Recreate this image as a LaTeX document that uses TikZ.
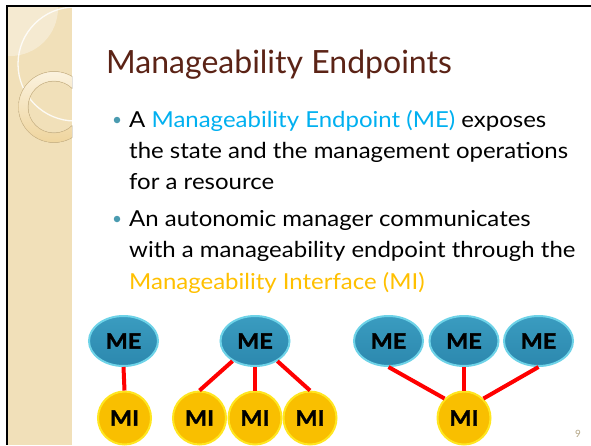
\documentclass[tikz,border=0pt]{standalone}
\usepackage{fontspec}
\setmainfont{Lato}
\newfontfamily\bodyfont{Lato}[FakeStretch=1.09]
\newfontfamily\labelfont{Lato}[FakeStretch=1.12, BoldFeatures={FakeBold=1.6}]
\usetikzlibrary{shapes.geometric}

\definecolor{titlebrown}{HTML}{5B2316}
\definecolor{panelbeige}{HTML}{F1E0B9}
\definecolor{ringlight}{HTML}{FBF2DE}
\definecolor{ringdark}{HTML}{EFD59E}
\definecolor{ringedge}{HTML}{D9C190}
\definecolor{mecyan}{HTML}{00B0F0}
\definecolor{migold}{HTML}{FFC000}
\definecolor{bulletteal}{HTML}{4A9BB0}
\definecolor{mefill}{HTML}{3A9CC0}
\definecolor{mefilldark}{HTML}{2C88AE}
\definecolor{merim}{HTML}{6ED3E8}
\definecolor{mifill}{HTML}{F9BF00}
\definecolor{mirim}{HTML}{FFE620}
\definecolor{linkred}{HTML}{FF0000}
\definecolor{pagegray}{HTML}{B3A585}

\tikzset{
  mebox/.style={ellipse, draw=merim, line width=2pt, top color=mefill, bottom color=mefilldark,
    minimum width=69pt, minimum height=50pt, inner sep=0pt,
    font=\labelfont\fontsize{21}{24}\selectfont\bfseries, text=black},
  mibox/.style={circle, draw=mirim, line width=2pt, fill=mifill,
    minimum size=53pt, inner sep=0pt,
    font=\labelfont\fontsize{21}{24}\selectfont\bfseries, text=black},
  link/.style={draw=linkred, line width=4pt},
  bodytext/.style={anchor=base west, inner sep=0pt, font=\bodyfont\fontsize{22}{26}\selectfont, text=black},
  bulletdot/.style={circle, fill=bulletteal, inner sep=0pt, minimum size=6.5pt}
}

\begin{document}
\begin{tikzpicture}[x=1pt,y=-1pt]
\useasboundingbox (0,0) rectangle (591,445);
\fill[white] (0,0) rectangle (591,445);

% decorative side panel
\fill[panelbeige] (8,7) rectangle (72,445);
\begin{scope}
  \clip (8,7) rectangle (72,445);
  \fill[white, opacity=0.35] (10,8) circle (48);
  \draw[white, line width=1.3pt, opacity=0.85] (75,64) circle (57);
  \fill[even odd rule, top color=ringlight, bottom color=ringdark]
    (54,107) circle (35.5) (54,107) circle (26);
  \draw[ringedge, line width=0.5pt] (54,107) circle (35.5);
  \draw[ringedge, line width=0.5pt] (54,107) circle (26);
\end{scope}

% frame
\draw[black, line width=2.2pt] (6,6) -- (591,6);
\draw[black, line width=2.2pt] (7,5) -- (7,445);

% title
\node[anchor=base west, inner sep=0pt, text=titlebrown, font=\fontsize{32}{38}\selectfont]
  (title) at (106,73) {Manageability Endpoints};

% bullet points
\node[bulletdot] (b1) at (117,120) {};
\node[bodytext] (l1) at (129,127) {A \textcolor{mecyan}{Manageability Endpoint (ME)} exposes};
\node[bodytext] (l2) at (129,158) {the state and the management operations};
\node[bodytext] (l3) at (129,189) {for a resource};
\node[bulletdot] (b2) at (117,219) {};
\node[bodytext] (l4) at (129,226) {An autonomic manager communicates};
\node[bodytext] (l5) at (129,257) {with a manageability endpoint through the};
\node[bodytext, text=migold] (l6) at (129,289) {Manageability Interface (MI)};

% one endpoint, one interface
\node[mebox] (me1) at (123.5,341) {ME};
\node[mibox] (mi1) at (124.5,418) {MI};

% one endpoint, three interfaces
\node[mebox] (me2) at (255,341) {ME};
\node[mibox] (mi2) at (199.5,418) {MI};
\node[mibox] (mi3) at (255,418) {MI};
\node[mibox] (mi4) at (310,418) {MI};

% three endpoints, one interface
\node[mebox] (me3) at (388.5,341) {ME};
\node[mebox] (me4) at (464,341) {ME};
\node[mebox] (me5) at (538.5,341) {ME};
\node[mibox] (mi5) at (464,418) {MI};

% connectors
\draw[link] (me1.south) -- (mi1.north);
\draw[link] (me2) -- (mi2.north);
\draw[link] (me2.south) -- (mi3.north);
\draw[link] (me2) -- (mi4.north);
\draw[link] (me3.south) -- (mi5.north west);
\draw[link] (me4.south) -- (mi5.north);
\draw[link] (me5.south) -- (mi5.north east);

% page number
\node[text=pagegray, font=\fontsize{10}{11}\selectfont] (pg) at (578,434) {9};
\end{tikzpicture}
\end{document}
